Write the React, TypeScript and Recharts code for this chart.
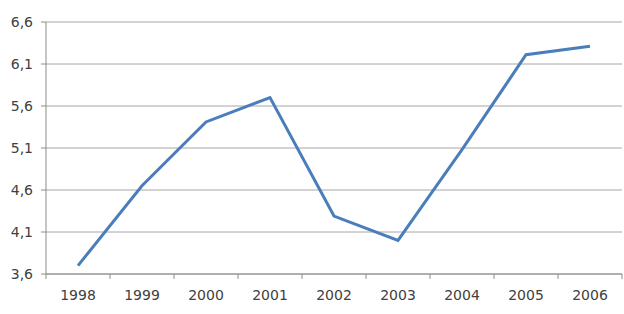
import React from 'react';
import { LineChart, Line, XAxis, YAxis, CartesianGrid } from 'recharts';

const years = ['1998', '1999', '2000', '2001', '2002', '2003', '2004', '2005', '2006'];
const values = [3.7, 4.65, 5.41, 5.7, 4.29, 4.0, 5.08, 6.21, 6.31];
const yTicks = [3.6, 4.1, 4.6, 5.1, 5.6, 6.1, 6.6];

const data = years.map((y, i) => ({ pos: i + 0.5, year: y, value: values[i] }));
const boundaryTicks = years.map((_, i) => i).concat([years.length]);
const centerTicks = years.map((_, i) => i + 0.5);

const font = { fontFamily: 'DejaVu Sans', fontSize: 14, fill: '#404040' };

export default function App() {
  return (
    <div style={{ position: 'absolute', left: 0, top: 0, background: '#fff' }}>
      <LineChart width={624} height={314} data={data} margin={{ top: 22, right: 2, bottom: 0, left: 0 }}>
        <CartesianGrid horizontal vertical={false} stroke="#a6a6a6" strokeWidth={1} />
        <XAxis
          xAxisId="axA"
          dataKey="pos"
          type="number"
          domain={[0, years.length]}
          ticks={boundaryTicks}
          tick={() => <g />}
          tickLine={{ stroke: '#8c8c8c' }}
          tickSize={5}
          axisLine={{ stroke: '#8c8c8c' }}
          interval={0}
          height={1}
        />
        <XAxis
          xAxisId="axB"
          dataKey="pos"
          type="number"
          domain={[0, years.length]}
          ticks={centerTicks}
          tickFormatter={(v: number) => years[Math.round(v - 0.5)]}
          tick={font}
          tickLine={false}
          axisLine={false}
          tickSize={0}
          tickMargin={15}
          interval={0}
          height={39}
        />
        <YAxis
          type="number"
          domain={[3.6, 6.6]}
          ticks={yTicks}
          tickFormatter={(v: number) => v.toFixed(1).replace('.', ',')}
          tick={font}
          tickLine={{ stroke: '#8c8c8c' }}
          tickSize={5}
          tickMargin={8}
          axisLine={{ stroke: '#8c8c8c' }}
          width={46}
          interval={0}
        />
        <Line
          xAxisId="axA"
          type="linear"
          dataKey="value"
          stroke="#4a7ebb"
          strokeWidth={3}
          dot={false}
          isAnimationActive={false}
        />
      </LineChart>
    </div>
  );
}
